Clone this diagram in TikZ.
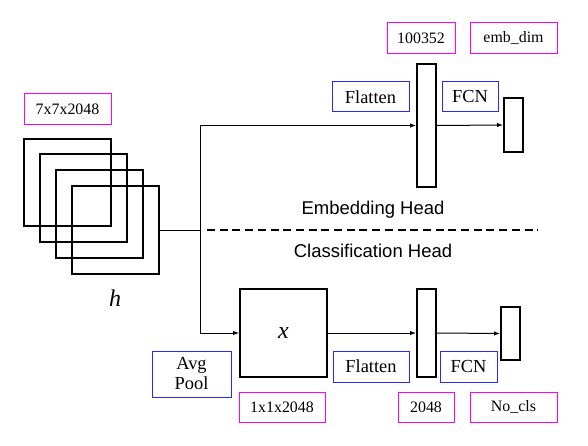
\documentclass[tikz,border=0pt]{standalone}
\usepackage{fontspec}
\setmainfont{Liberation Serif}
\newfontfamily\headfont{Liberation Sans}
\usetikzlibrary{arrows.meta}
\definecolor{lblmag}{RGB}{255,0,255}
\definecolor{lblblue}{RGB}{40,40,255}
\tikzset{
  dimlabel/.style={draw=lblmag, line width=1pt, inner sep=0pt, font=\fontsize{15.9}{18}\selectfont},
  oplabel/.style={draw=lblblue, line width=1pt, inner sep=0pt, align=center, font=\fontsize{18.4}{20}\selectfont},
  feat/.style={draw=black, line width=2pt, inner sep=0pt},
  conn/.style={draw=black, line width=1pt},
  arr/.style={conn, -{Latex[length=6pt,width=4.5pt]}},
  headtext/.style={font=\headfont\fontsize{18.5}{20}\selectfont, inner sep=0pt}
}
\begin{document}
\begin{tikzpicture}[x=1pt,y=-1pt]
\useasboundingbox (0,0) rectangle (588,446);
% stacked feature maps
\node[feat, minimum width=87pt, minimum height=87pt] (sqa) at (67.5,182.5) {};
\node[feat, minimum width=87pt, minimum height=87pt] (sqb) at (83.5,198) {};
\node[feat, minimum width=87pt, minimum height=87pt] (sqc) at (99.5,214) {};
\node[feat, minimum width=87pt, minimum height=87pt] (sqd) at (115.5,230) {};
\node[dimlabel, minimum width=87pt, minimum height=31pt] (lblh) at (67.5,109.5) {7x7x2048};
\node[font=\fontsize{24}{26}\selectfont\itshape, inner sep=0pt] (htxt) at (115,298) {h};
% embedding head
\node[feat, minimum width=19pt, minimum height=123pt] (embtall) at (426.5,125.5) {};
\node[feat, minimum width=19pt, minimum height=54pt] (embsmall) at (513.5,125) {};
\node[dimlabel, minimum width=68pt, minimum height=31pt] (lbl100352) at (421,38.5) {100352};
\node[dimlabel, minimum width=87pt, minimum height=31pt] (lblemb) at (513.5,38.5) {emb\_dim};
\node[oplabel, minimum width=77pt, minimum height=30pt] (flattop) at (370.5,97) {Flatten};
\node[oplabel, minimum width=56pt, minimum height=30pt] (fcntop) at (470,97) {FCN};
% classification head
\node[feat, minimum width=87pt, minimum height=88pt, font=\fontsize{24}{26}\selectfont\itshape] (xbox) at (283.5,333) {x};
\node[feat, minimum width=19pt, minimum height=88pt] (clstall) at (426.5,333) {};
\node[feat, minimum width=19pt, minimum height=53pt] (clssmall) at (510.5,333.5) {};
\node[oplabel, minimum width=79pt, minimum height=46pt] (avgpool) at (191.5,374) {Avg\\Pool};
\node[oplabel, minimum width=76pt, minimum height=31pt] (flatbot) at (371,366.5) {Flatten};
\node[oplabel, minimum width=57pt, minimum height=31pt] (fcnbot) at (468.5,366.5) {FCN};
\node[dimlabel, minimum width=86pt, minimum height=30pt] (lbl1x1) at (282,407) {1x1x2048};
\node[dimlabel, minimum width=56pt, minimum height=30pt] (lbl2048) at (426,407) {2048};
\node[dimlabel, minimum width=87pt, minimum height=30pt] (lblcls) at (513.5,407) {No\_cls};
% head titles and separator
\node[headtext] (embtitle) at (373,210) {Embedding Head};
\node[headtext] (clstitle) at (373,251) {Classification Head};
\coordinate (sepl) at (207,230);
\coordinate (sepr) at (538,230);
\draw[line width=2pt, dash pattern=on 8pt off 4.7pt] (sepl) -- (sepr);
% connectors
\coordinate (split) at (200,230);
\draw[conn] (sqd.east) -- (split);
\draw[arr] (split) |- (embtall.west);
\draw[arr] (split) |- (xbox.west);
\draw[arr] (embtall.east) -- (embsmall.west);
\draw[arr] (xbox.east) -- (clstall.west);
\draw[arr] (clstall.east) -- (clssmall.west);
\end{tikzpicture}
\end{document}
